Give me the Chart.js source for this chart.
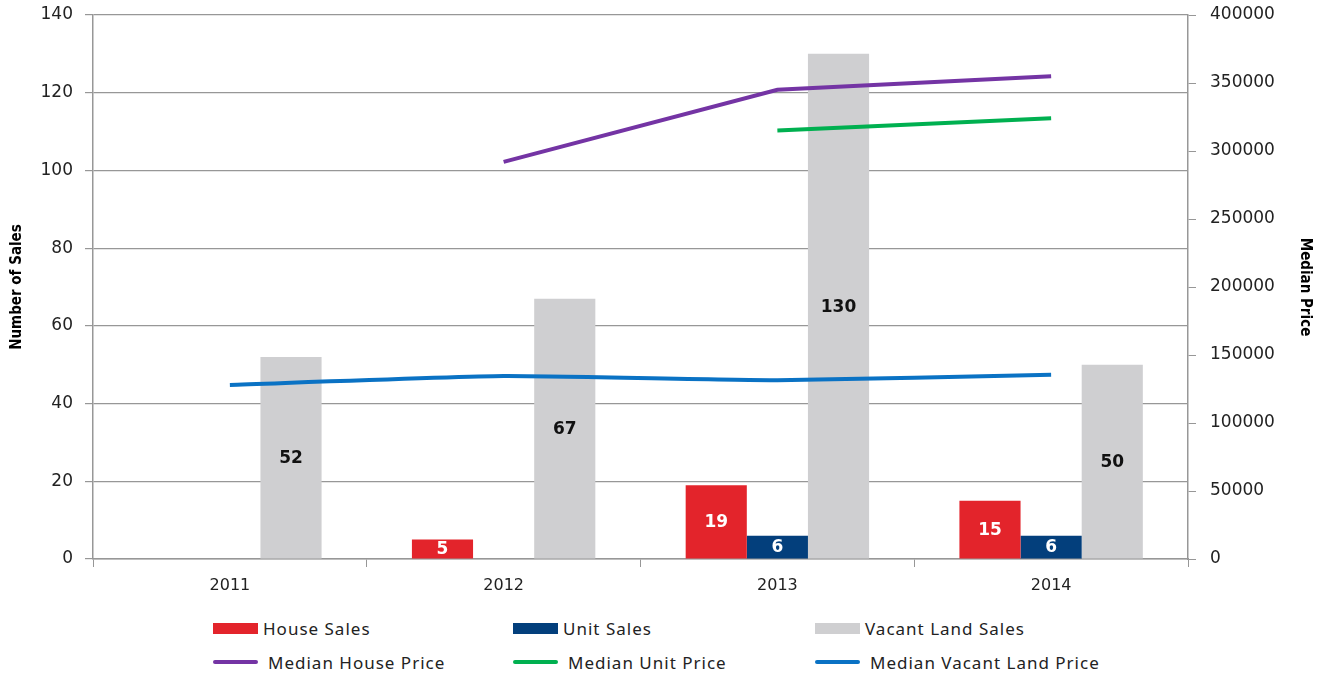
<!DOCTYPE html>
<html>
<head>
<meta charset="utf-8">
<script src="https://cdn.jsdelivr.net/npm/chart.js@4.4.1/dist/chart.umd.min.js"></script>
<style>
  body { margin: 0; background: #fff; }
  #wrap { position: relative; width: 1326px; height: 675px; }
  #legend { position: absolute; left: 0; top: 600px; width: 1326px; height: 75px;
    font-family: "Noto Sans", sans-serif; font-size: 17px; letter-spacing: 1px; color: #222; }
  .item { position: absolute; display: flex; align-items: center; height: 20px; }
  .swatch { width: 45px; margin-right: 5px; }
</style>
</head>
<body>
<div id="wrap">
  <canvas id="salesChart" width="1326" height="600"></canvas>
  <div id="legend"></div>
</div>
<script>
const years = ['2011', '2012', '2013', '2014'];
const houseSales = [null, 5, 19, 15];
const unitSales = [null, null, 6, 6];
const vacantLandSales = [52, 67, 130, 50];
const medianHousePrice = [null, 292000, 345000, 355000];
const medianUnitPrice = [null, null, 315000, 324000];
const medianVacantLandPrice = [128000, 134500, 131500, 135500];

const gridGrey = '#979797';
const tickFont = {family: 'DejaVu Sans', size: 17};
const titleFont = {family: 'DejaVu Sans Condensed', size: 15, weight: 'bold'};

// draw the number in the middle of each bar
const barLabels = {
  id: 'barLabels',
  afterDatasetsDraw(chart) {
    const ctx = chart.ctx;
    chart.data.datasets.forEach((ds, i) => {
      if (ds.type !== 'bar') return;
      const meta = chart.getDatasetMeta(i);
      meta.data.forEach((bar, j) => {
        const v = ds.data[j];
        if (v == null) return;
        ctx.save();
        ctx.font = 'bold 17px "DejaVu Sans"';
        ctx.fillStyle = ds.labelColor;
        ctx.textAlign = 'center';
        ctx.textBaseline = 'middle';
        ctx.fillText(String(v), bar.x, (bar.y + bar.base) / 2 + 1);
        ctx.restore();
      });
    });
  }
};

// fixed axis sizes so the plot area sits where the original one does
function fixVertical(width) {
  return (s) => {
    s.width = width;
    s.paddingTop = 0;
    s.paddingBottom = 0;
  };
}

const config = {
  data: {
    labels: years,
    datasets: [
      {type: 'bar', label: 'House Sales', data: houseSales, backgroundColor: '#e3242b',
        labelColor: '#fff', yAxisID: 'y', order: 1},
      {type: 'bar', label: 'Unit Sales', data: unitSales, backgroundColor: '#033f7c',
        labelColor: '#fff', yAxisID: 'y', order: 1},
      {type: 'bar', label: 'Vacant Land Sales', data: vacantLandSales, backgroundColor: '#cfcfd1',
        labelColor: '#111', yAxisID: 'y', order: 1},
      {type: 'line', label: 'Median House Price', data: medianHousePrice, borderColor: '#7434a4',
        borderWidth: 4, pointRadius: 0, yAxisID: 'y1', order: 0},
      {type: 'line', label: 'Median Unit Price', data: medianUnitPrice, borderColor: '#00b050',
        borderWidth: 4, pointRadius: 0, yAxisID: 'y1', order: 0},
      {type: 'line', label: 'Median Vacant Land Price', data: medianVacantLandPrice, borderColor: '#0a72c4',
        borderWidth: 4, pointRadius: 0, tension: 0.15, yAxisID: 'y1', order: 0}
    ]
  },
  options: {
    responsive: false,
    animation: false,
    layout: {padding: {top: 15, left: 0, right: 0, bottom: 0}},
    datasets: {bar: {categoryPercentage: 0.67, barPercentage: 1.0}},
    plugins: {
      legend: {display: false},
      tooltip: {enabled: false}
    },
    scales: {
      x: {
        grid: {display: true, drawOnChartArea: false, offset: true, color: gridGrey, tickLength: 8},
        border: {color: gridGrey, width: 1.5},
        ticks: {font: {family: 'DejaVu Sans', size: 16}, color: '#222', padding: 9},
        afterFit: (s) => { s.height = 41; }
      },
      y: {
        position: 'left',
        min: 0, max: 140,
        ticks: {stepSize: 20, font: tickFont, color: '#222', padding: 12},
        grid: {color: gridGrey, lineWidth: 1.2, tickLength: 8},
        border: {color: gridGrey, width: 1.5},
        title: {display: true, text: 'Number of Sales', color: '#000', font: titleFont,
          padding: {top: 8, bottom: 0}},
        afterFit: fixVertical(93)
      },
      y1: {
        position: 'right',
        min: 0, max: 400000,
        ticks: {stepSize: 50000, font: tickFont, color: '#222', padding: 14,
          callback: (v) => String(v)},
        grid: {drawOnChartArea: false, color: gridGrey, tickLength: 8},
        border: {color: gridGrey, width: 1.5},
        title: {display: true, text: 'Median Price', color: '#000', font: titleFont,
          padding: {top: 12, bottom: 0}},
        afterFit: fixVertical(138)
      }
    }
  },
  plugins: [barLabels]
};

const myChart = new Chart(document.getElementById('salesChart'), config);

// legend laid out in three columns like the original
const legendCols = [213, 513, 815];
const legendRows = [18, 52];
const legendEl = document.getElementById('legend');
config.data.datasets.forEach((ds, i) => {
  const item = document.createElement('div');
  item.className = 'item';
  item.style.left = legendCols[i % 3] + 'px';
  item.style.top = legendRows[Math.floor(i / 3)] + 'px';
  const sw = document.createElement('span');
  sw.className = 'swatch';
  if (ds.type === 'bar') {
    sw.style.height = '11px';
    sw.style.background = ds.backgroundColor;
  } else {
    sw.style.height = '4px';
    sw.style.borderRadius = '2px';
    sw.style.background = ds.borderColor;
    sw.style.marginRight = '10px';
  }
  const txt = document.createElement('span');
  txt.textContent = ds.label;
  item.appendChild(sw);
  item.appendChild(txt);
  legendEl.appendChild(item);
});
</script>
</body>
</html>
